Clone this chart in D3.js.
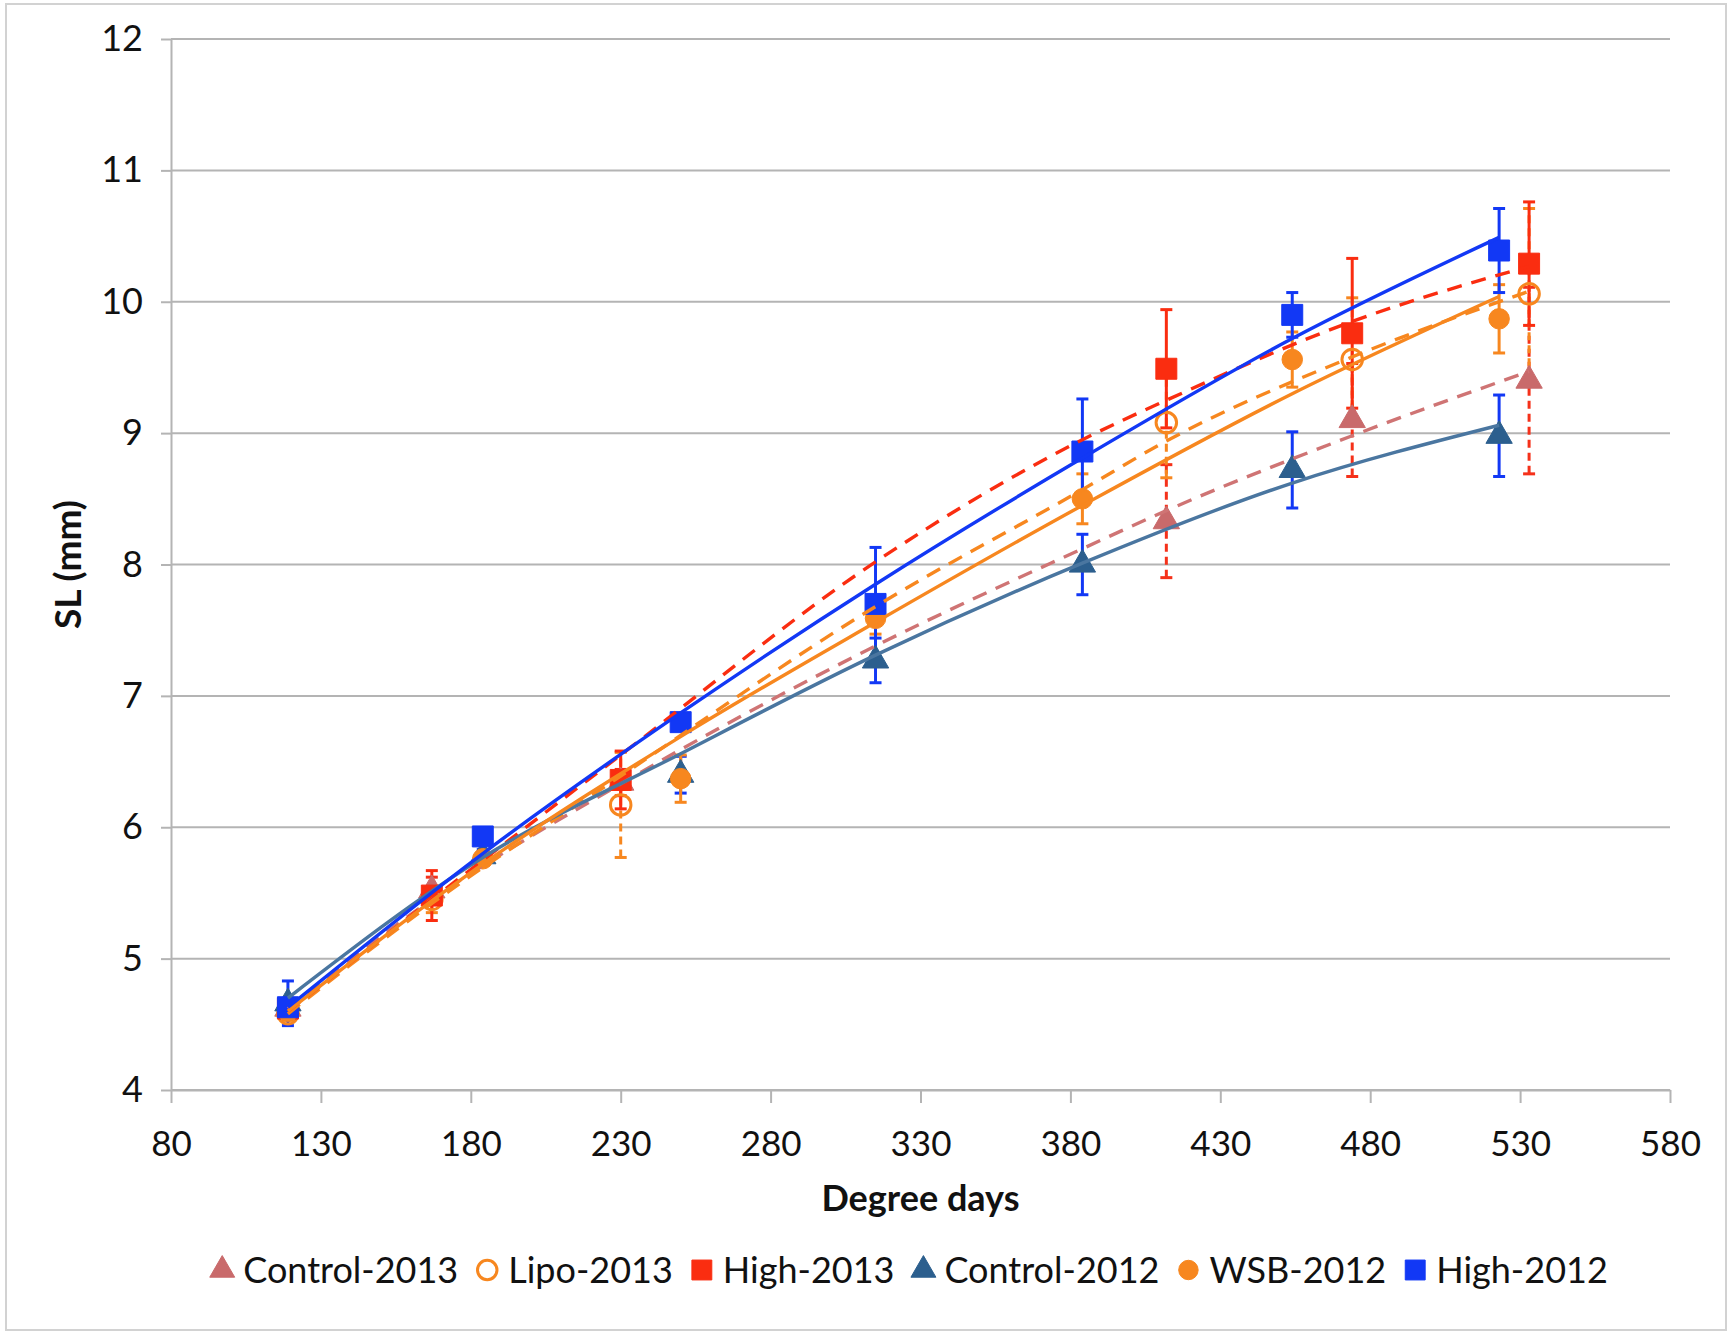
<!DOCTYPE html>
<html>
<head>
<meta charset="utf-8">
<script src="https://cdn.jsdelivr.net/npm/d3@7/dist/d3.min.js"></script>
<style>
body { margin: 0; background: #fff; }
text { font-family: Lato, "Open Sans", sans-serif; fill: #111; }
</style>
</head>
<body>
<svg id="chart" width="1731" height="1335"></svg>
<script>
// ---- data ----
var seriesNames = ["Control-2013", "Lipo-2013", "High-2013", "Control-2012", "WSB-2012", "High-2012"];

var days2013 = [119, 167, 230, 412, 474, 533];
var days2012 = [119, 184, 250, 315, 384, 454, 523];

var control2013 = [4.62, 5.52, 6.34, 8.33, 9.10, 9.40];
var control2013Err = [0.05, 0.10, 0.10, 0.43, 0.43, 0.71];
var lipo2013 = [4.58, 5.45, 6.17, 9.08, 9.56, 10.06];
var lipo2013Err = [0.05, 0.10, 0.40, 0.42, 0.47, 0.65];
var high2013 = [4.62, 5.48, 6.36, 9.49, 9.76, 10.29];
var high2013Err = [0.05, 0.19, 0.22, 0.45, 0.57, 0.47];

var control2012 = [4.66, 5.78, 6.40, 7.27, 8.00, 8.72, 8.98];
var control2012Err = [0.17, 0.05, 0.14, 0.17, 0.23, 0.29, 0.31];
var wsb2012 = [4.60, 5.76, 6.37, 7.59, 8.50, 9.56, 9.87];
var wsb2012Err = [0.05, 0.05, 0.18, 0.12, 0.19, 0.21, 0.26];
var high2012 = [4.63, 5.93, 6.80, 7.70, 8.86, 9.90, 10.39];
var high2012Err = [0.05, 0.05, 0.05, 0.43, 0.40, 0.17, 0.32];

// fitted trend lines
var trendDays2013 = [119, 167, 230, 315, 384, 412, 474, 533];
var trendDays2012 = [119, 184, 250, 315, 384, 454, 523];
var control2013Trend = [4.62, 5.45, 6.33, 7.38, 8.12, 8.41, 8.98, 9.47];
var lipo2013Trend = [4.58, 5.42, 6.39, 7.68, 8.57, 8.94, 9.58, 10.08];
var high2013Trend = [4.60, 5.45, 6.55, 8.02, 8.95, 9.25, 9.85, 10.27];
var control2012Trend = [4.70, 5.77, 6.56, 7.31, 8.01, 8.62, 9.06];
var wsb2012Trend = [4.60, 5.72, 6.69, 7.56, 8.45, 9.30, 10.04];
var high2012Trend = [4.63, 5.80, 6.87, 7.85, 8.81, 9.72, 10.49];

var xTicks = [80, 130, 180, 230, 280, 330, 380, 430, 480, 530, 580];
var yTicks = [4, 5, 6, 7, 8, 9, 10, 11, 12];

function draw() {
    var series = [
        {name: seriesNames[0], x: days2013, y: control2013, err: control2013Err, tx: trendDays2013, ty: control2013Trend,
         color: "#c96a6b", lineColor: "#cf7474", errColor: "#f5311a", shape: d3.symbolTriangle, filled: true, dashed: true, errDashed: true},
        {name: seriesNames[1], x: days2013, y: lipo2013, err: lipo2013Err, tx: trendDays2013, ty: lipo2013Trend,
         color: "#f7871f", lineColor: "#f7871f", errColor: "#f7871f", shape: d3.symbolCircle, filled: false, dashed: true, errDashed: true},
        {name: seriesNames[2], x: days2013, y: high2013, err: high2013Err, tx: trendDays2013, ty: high2013Trend,
         color: "#fa2d10", lineColor: "#fa2d10", errColor: "#fa2d10", shape: d3.symbolSquare, filled: true, dashed: true, errDashed: false},
        {name: seriesNames[3], x: days2012, y: control2012, err: control2012Err, tx: trendDays2012, ty: control2012Trend,
         color: "#2c5f8e", lineColor: "#4a76a0", errColor: "#1238f5", shape: d3.symbolTriangle, filled: true, dashed: false, errDashed: false},
        {name: seriesNames[4], x: days2012, y: wsb2012, err: wsb2012Err, tx: trendDays2012, ty: wsb2012Trend,
         color: "#f7871f", lineColor: "#f7871f", errColor: "#f7871f", shape: d3.symbolCircle, filled: true, dashed: false, errDashed: false},
        {name: seriesNames[5], x: days2012, y: high2012, err: high2012Err, tx: trendDays2012, ty: high2012Trend,
         color: "#1238f5", lineColor: "#1238f5", errColor: "#1238f5", shape: d3.symbolSquare, filled: true, dashed: false, errDashed: false}
    ];

    var svg = d3.select("#chart");
    var plotLeft = 171, plotRight = 1670, plotTop = 39, plotBottom = 1090;
    var gridColor = "#b4b4b4";

    // outer frame
    svg.append("rect").attr("x", 6).attr("y", 4).attr("width", 1720).attr("height", 1326)
        .attr("fill", "#fff").attr("stroke", "#d2d2d2").attr("stroke-width", 2);

    var x = d3.scaleLinear().domain([80, 580]).range([plotLeft, plotRight]);
    var y = d3.scaleLinear().domain([4, 12]).range([plotBottom, plotTop]);

    // horizontal gridlines
    svg.append("g").selectAll("line").data(yTicks).enter().append("line")
        .attr("x1", plotLeft).attr("x2", plotRight)
        .attr("y1", function(d) { return y(d); }).attr("y2", function(d) { return y(d); })
        .attr("stroke", gridColor).attr("stroke-width", 2);

    // y axis
    var yAxis = svg.append("g").attr("transform", "translate(" + plotLeft + ",0)")
        .call(d3.axisLeft(y).tickValues(yTicks).tickSize(10).tickPadding(18).tickSizeOuter(0));
    yAxis.selectAll("text").style("font-size", "36px").attr("fill", "#111");

    // x axis
    var xAxis = svg.append("g").attr("transform", "translate(0," + plotBottom + ")")
        .call(d3.axisBottom(x).tickValues(xTicks).tickSize(13).tickPadding(28).tickSizeOuter(0));
    xAxis.selectAll("text").style("font-size", "35px").attr("fill", "#111");

    svg.selectAll(".domain").attr("stroke", gridColor).attr("stroke-width", 2);
    svg.selectAll(".tick line").attr("stroke", gridColor).attr("stroke-width", 2);

    // axis titles
    svg.append("text").attr("x", (plotLeft + plotRight) / 2).attr("y", 1211)
        .attr("text-anchor", "middle").style("font-size", "36px").style("font-weight", "bold")
        .text("Degree days");
    svg.append("text").attr("transform", "translate(68," + ((plotTop + plotBottom) / 2) + ") rotate(-90)")
        .attr("text-anchor", "middle").attr("dy", "0.35em")
        .style("font-size", "37px").style("font-weight", "bold")
        .text("SL (mm)");

    // error bars
    var capW = 6;
    series.forEach(function(s) {
        var g = svg.append("g").attr("stroke", s.errColor).attr("stroke-width", 3);
        s.x.forEach(function(d, i) {
            var cx = x(d), lo = y(s.y[i] - s.err[i]), hi = y(s.y[i] + s.err[i]);
            g.append("line").attr("x1", cx).attr("x2", cx).attr("y1", lo).attr("y2", hi)
                .attr("stroke-dasharray", s.errDashed ? "8,5" : null);
            g.append("line").attr("x1", cx - capW).attr("x2", cx + capW).attr("y1", lo).attr("y2", lo);
            g.append("line").attr("x1", cx - capW).attr("x2", cx + capW).attr("y1", hi).attr("y2", hi);
        });
    });

    // markers
    function markerSize(shape) {
        if (shape === d3.symbolSquare) return 440;
        if (shape === d3.symbolTriangle) return 300;
        return 330;
    }
    series.forEach(function(s) {
        var sym = d3.symbol().type(s.shape).size(markerSize(s.shape));
        svg.append("g").selectAll("path").data(s.x).enter().append("path")
            .attr("d", sym)
            .attr("transform", function(d, i) { return "translate(" + x(d) + "," + y(s.y[i]) + ")"; })
            .attr("fill", s.filled ? s.color : "none")
            .attr("stroke", s.color)
            .attr("stroke-width", s.filled ? 1 : 3);
    });

    // trend lines
    var line = d3.line().curve(d3.curveMonotoneX)
        .x(function(d) { return x(d[0]); })
        .y(function(d) { return y(d[1]); });
    series.forEach(function(s) {
        svg.append("path")
            .datum(d3.zip(s.tx, s.ty))
            .attr("d", line)
            .attr("fill", "none")
            .attr("stroke", s.lineColor)
            .attr("stroke-width", 3.4)
            .attr("stroke-dasharray", s.dashed ? "15,10" : null);
    });

    // legend
    var legend = svg.append("g").attr("transform", "translate(0,1270)");
    var items = legend.selectAll("g").data(series).enter().append("g");
    items.append("path")
        .attr("d", function(s) { return d3.symbol().type(s.shape).size(markerSize(s.shape) * 0.9)(); })
        .attr("fill", function(s) { return s.filled ? s.color : "none"; })
        .attr("stroke", function(s) { return s.color; })
        .attr("stroke-width", function(s) { return s.filled ? 1 : 3; });
    items.append("text").attr("x", 21).attr("dy", "0.35em").style("font-size", "36px")
        .text(function(s) { return s.name; });

    var gap = 29, pos = 0, offsets = [];
    items.each(function() {
        offsets.push(pos);
        pos += 21 + this.querySelector("text").getComputedTextLength() + gap;
    });
    var total = pos - gap + 12;
    var start = 909 - total / 2 + 12;
    items.attr("transform", function(d, i) { return "translate(" + (start + offsets[i]) + ",0)"; });
}

draw();
</script>
</body>
</html>
